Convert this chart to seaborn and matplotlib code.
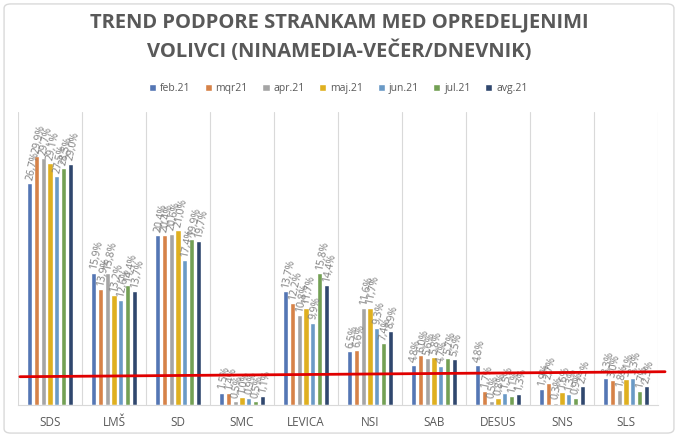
import pandas as pd
import numpy as np
import matplotlib
matplotlib.use("Agg")
import matplotlib.pyplot as plt
import seaborn as sns
from matplotlib.patches import FancyBboxPatch

# podatki odčitani s slike
stranke = ["SDS", "LMŠ", "SD", "SMC", "LEVICA", "NSI", "SAB", "DESUS", "SNS", "SLS"]
meseci = ["feb.21", "mqr21", "apr.21", "maj.21", "jun.21", "jul.21", "avg.21"]

feb21 = [26.7, 15.9, 20.4, 1.5, 13.7, 6.5, 4.8, 4.8, 1.9, 3.3]
mqr21 = [29.9, 13.9, 20.4, 1.4, 12.2, 6.6, 6.0, 1.7, 2.7, 3.0]
apr21 = [29.7, 15.8, 20.6, 0.5, 10.8, 11.6, 5.6, 0.5, 0.3, 1.8]
maj21 = [29.1, 13.2, 21.0, 1.0, 11.7, 11.7, 5.8, 0.8, 1.6, 3.1]
jun21 = [27.5, 12.6, 17.4, 0.9, 9.9, 9.3, 4.7, 1.5, 1.3, 3.3]
jul21 = [28.5, 14.4, 19.9, 0.5, 15.8, 7.4, 5.7, 1.1, 0.9, 1.7]
avg21 = [29.0, 13.7, 19.7, 1.1, 14.4, 8.9, 5.5, 1.3, 2.3, 2.3]

# rdeča črta (prag), ročno narisana čez graf
prag_x = [-0.47, 9.61]
prag_y = [3.4, 4.0]

barve = ["#4472C4", "#ED7D31", "#A5A5A5", "#FFC000", "#5B9BD5", "#70AD47", "#264478"]

serije = [feb21, mqr21, apr21, maj21, jun21, jul21, avg21]
df = pd.DataFrame({
    "stranka": np.tile(stranke, len(meseci)),
    "mesec": np.repeat(meseci, len(stranke)),
    "delez": np.concatenate(serije),
})

sns.set_style("white")
plt.rcParams["font.family"] = ["Open Sans", "DejaVu Sans"]

fig = plt.figure(figsize=(6.78, 4.37), dpi=100)
ax = fig.add_axes([0.0265, 0.0732, 0.944, 0.6705])

sns.barplot(data=df, x="stranka", y="delez", hue="mesec", palette=barve,
            width=0.74, gap=0.25, ax=ax, legend=True)

ax.set_ylim(0, 35.2)
ax.set_xlim(-0.5, len(stranke) - 0.5)

# oznake nad stolpci
for cont, mesec in zip(ax.containers, meseci):
    for bar in cont:
        h = bar.get_height()
        x = bar.get_x() + bar.get_width() / 2
        ax.text(x, h + 0.35, f"{h:.1f}%".replace(".", ","), rotation=78,
                rotation_mode="anchor", ha="left", va="center",
                fontsize=7.5, color="#7F7F7F")

# navpične mrežne črte med kategorijami
for i in range(len(stranke) + 1):
    ax.axvline(i - 0.5, color="#D9D9D9", lw=0.8, zorder=0)

for s in ["top", "right", "left"]:
    ax.spines[s].set_visible(False)
ax.spines["bottom"].set_color("#D9D9D9")
ax.set_yticks([])
ax.set_xlabel("")
ax.set_ylabel("")
ax.tick_params(axis="x", length=0, pad=8, labelsize=8.5, labelcolor="#595959")

ax.plot(prag_x, prag_y, color="#E00000", lw=2, clip_on=False, zorder=5)

leg = ax.legend(loc="lower center", bbox_to_anchor=(0.5, 1.03), ncol=7,
                frameon=False, fontsize=7.5, handlelength=0.7, handleheight=0.7,
                handletextpad=0.35, columnspacing=1.4)
for t in leg.get_texts():
    t.set_color("#595959")

fig.text(0.5, 0.948, "TREND PODPORE STRANKAM MED OPREDELJENIMI",
         ha="center", va="center", fontsize=14.5, fontweight="bold", color="#595959")
fig.text(0.5, 0.883, "VOLIVCI (NINAMEDIA-VEČER/DNEVNIK)",
         ha="center", va="center", fontsize=14.5, fontweight="bold", color="#595959")

okvir = FancyBboxPatch((0.006, 0.009), 0.988, 0.982, boxstyle="round,pad=0,rounding_size=0.01",
                       transform=fig.transFigure, fill=False, edgecolor="#D9D9D9", lw=1)
fig.patches.append(okvir)

fig.savefig("out.png", dpi=100)
